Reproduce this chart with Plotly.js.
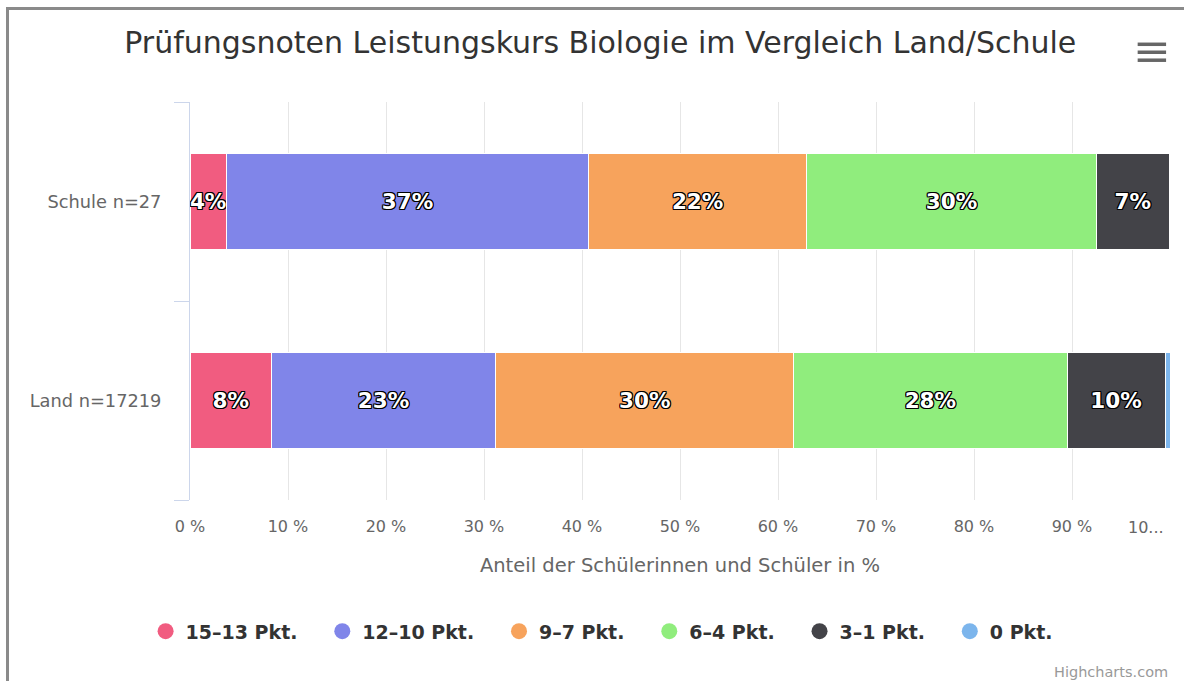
<!DOCTYPE html>
<html>
<head>
<meta charset="utf-8">
<script src="https://cdn.plot.ly/plotly-3.0.1.min.js"></script>
<style>
  html, body { margin: 0; padding: 0; background: #fff; overflow: hidden; }
  #chart { width: 1184px; height: 681px; }
  #frame { position: absolute; left: 6px; top: 7px; width: 1300px; height: 800px;
           border-left: 3px solid #8a8a8a; border-top: 3px solid #8a8a8a; pointer-events: none; }
</style>
</head>
<body>
<div id="chart"></div>
<div id="frame"></div>
<script>
// ---- data ----
const categories = ["Land n=17219", "Schule n=27"];
const seriesNames = ["15–13 Pkt.", "12–10 Pkt.", "9–7 Pkt.", "6–4 Pkt.", "3–1 Pkt.", "0 Pkt."];
const seriesColors = ["#f15c80", "#8085e9", "#f7a35c", "#90ed7d", "#434348", "#7cb5ec"];
// percentages per series: [Land, Schule]
const pkt15_13 = [8.3, 3.7];
const pkt12_10 = [22.9, 37.0];
const pkt9_7  = [30.4, 22.2];
const pkt6_4  = [27.9, 29.6];
const pkt3_1  = [10.0, 7.4];
const pkt0    = [0.5, 0.0];
const seriesValues = [pkt15_13, pkt12_10, pkt9_7, pkt6_4, pkt3_1, pkt0];
const showLabel = [true, true, true, true, true, false];
const tickVals = [0, 10, 20, 30, 40, 50, 60, 70, 80, 90, 100];
const tickText = ["0 %", "10 %", "20 %", "30 %", "40 %", "50 %", "60 %", "70 %", "80 %", "90 %", ""];
const lastTickText = "10...";

const FONT = "DejaVu Sans, Verdana, sans-serif";
const outline = "-1px -1px 0 #000, 1px -1px 0 #000, -1px 1px 0 #000, 1px 1px 0 #000, 0 1px 0 #000, 0 -1px 0 #000, 1px 0 0 #000, -1px 0 0 #000";
const legendPad = "\u00a0\u00a0\u00a0";

const traces = [];
seriesNames.forEach((name, i) => {
  traces.push({
    type: "bar",
    orientation: "h",
    name: name,
    legendgroup: name,
    showlegend: false,
    x: seriesValues[i],
    y: categories,
    marker: { color: seriesColors[i], line: { color: "#ffffff", width: 1 } },
    texttemplate: showLabel[i] ? "%{x:.0f}%" : "",
    textposition: showLabel[i] ? "inside" : "none",
    insidetextanchor: "middle",
    textangle: 0,
    constraintext: "none",
    textfont: { family: FONT, size: 21.5, color: "#ffffff", weight: 700, shadow: outline },
    hoverinfo: "x+name"
  });
});
// legend entries with round symbols
seriesNames.forEach((name, i) => {
  traces.push({
    type: "scatter",
    mode: "markers",
    name: i < seriesNames.length - 1 ? name + legendPad : name,
    legendgroup: name,
    x: [null],
    y: [null],
    marker: { symbol: "circle", size: 18, color: seriesColors[i] },
    hoverinfo: "skip"
  });
});

const layout = {
  width: 1184,
  height: 681,
  margin: { l: 190, r: 14, t: 102, b: 181 },
  paper_bgcolor: "#ffffff",
  plot_bgcolor: "#ffffff",
  barmode: "stack",
  bargap: 0.517,
  font: { family: FONT, color: "#666666" },
  title: {
    text: "Prüfungsnoten Leistungskurs Biologie im Vergleich Land/Schule",
    font: { family: FONT, size: 30, color: "#333333" },
    x: 0.507, xanchor: "center", xref: "container",
    y: 0.937, yanchor: "middle", yref: "container"
  },
  xaxis: {
    range: [0, 100],
    tickvals: tickVals,
    ticktext: tickText,
    showgrid: true,
    gridcolor: "#e6e6e6",
    gridwidth: 1,
    zeroline: false,
    showline: false,
    ticks: "",
    ticklabelstandoff: 15,
    tickfont: { family: FONT, size: 16, color: "#666666" },
    title: {
      text: "Anteil der Schülerinnen und Schüler in %",
      font: { family: FONT, size: 19.5, color: "#666666" },
      standoff: 23
    },
    fixedrange: true
  },
  yaxis: {
    type: "category",
    categoryorder: "array",
    categoryarray: categories,
    range: [-0.5, 1.5],
    tickson: "boundaries",
    ticks: "outside",
    ticklen: 15,
    tickcolor: "#ccd6eb",
    tickwidth: 1,
    showline: true,
    linecolor: "#ccd6eb",
    linewidth: 1,
    showgrid: false,
    zeroline: false,
    ticklabelstandoff: 24,
    tickfont: { family: FONT, size: 17.8, color: "#666666" },
    fixedrange: true
  },
  showlegend: true,
  legend: {
    orientation: "h",
    x: 0.42, xanchor: "center",
    y: -0.33, yanchor: "middle",
    font: { family: FONT, size: 19, color: "#333333", weight: 700 },
    itemsizing: "trace",
    bgcolor: "rgba(0,0,0,0)"
  },
  annotations: [
    {
      text: lastTickText,
      xref: "x", yref: "paper",
      x: 100, y: -0.068, xanchor: "right", yanchor: "middle",
      xshift: -4,
      showarrow: false,
      font: { family: FONT, size: 16, color: "#666666" }
    },
    {
      text: "Highcharts.com",
      xref: "paper", yref: "paper",
      x: 1.0, y: -0.4325, xanchor: "right", yanchor: "middle",
      showarrow: false,
      font: { family: FONT, size: 14.5, color: "#999999" }
    }
  ],
  shapes: [
    { type: "line", xref: "paper", yref: "paper", x0: 0.967, x1: 0.996, y0: 1.145, y1: 1.145, line: { color: "#666666", width: 3.5 } },
    { type: "line", xref: "paper", yref: "paper", x0: 0.967, x1: 0.996, y0: 1.125, y1: 1.125, line: { color: "#666666", width: 3.5 } },
    { type: "line", xref: "paper", yref: "paper", x0: 0.967, x1: 0.996, y0: 1.105, y1: 1.105, line: { color: "#666666", width: 3.5 } }
  ]
};

Plotly.newPlot("chart", traces, layout, { displayModeBar: false, staticPlot: true });
</script>
</body>
</html>
